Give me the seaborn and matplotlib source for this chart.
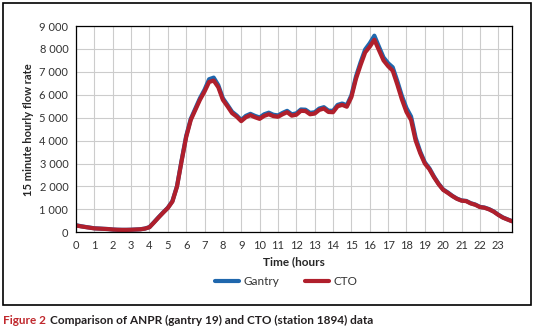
import numpy as np
import pandas as pd
import matplotlib
matplotlib.use("Agg")
import matplotlib.pyplot as plt
import matplotlib.ticker as mticker
from matplotlib.patches import Rectangle
import seaborn as sns

#%% data (15 minute intervals, 0:00 - 23:45)
hours = np.arange(96) * 0.25

cto = [300, 260, 230, 200, 170, 160, 150, 140,
       120, 110, 105, 105, 110, 120, 130, 160,
       220, 430, 650, 860, 1060, 1340, 1990, 3100,
       4150, 4900, 5340, 5780, 6140, 6560, 6620, 6330,
       5780, 5500, 5200, 5050, 4850, 5020, 5110, 5020,
       4950, 5080, 5150, 5070, 5040, 5150, 5240, 5090,
       5130, 5300, 5290, 5150, 5180, 5340, 5400, 5250,
       5240, 5500, 5560, 5480, 5900, 6700, 7300, 7850,
       8100, 8400, 7950, 7500, 7250, 7050, 6450, 5800,
       5250, 4900, 4000, 3450, 3000, 2750, 2400, 2100,
       1850, 1720, 1580, 1460, 1380, 1360, 1260, 1200,
       1100, 1070, 1000, 900, 760, 640, 560, 480]

gantry = [310, 270, 235, 205, 175, 165, 152, 142,
          122, 112, 108, 108, 112, 122, 133, 163,
          225, 440, 660, 870, 1070, 1360, 2010, 3130,
          4200, 4950, 5400, 5850, 6220, 6680, 6750, 6420,
          5850, 5560, 5260, 5100, 4900, 5080, 5170, 5080,
          5010, 5150, 5220, 5130, 5100, 5210, 5300, 5150,
          5190, 5360, 5350, 5210, 5240, 5400, 5460, 5310,
          5300, 5560, 5620, 5540, 5980, 6800, 7420, 7980,
          8250, 8580, 8100, 7630, 7380, 7200, 6600, 5950,
          5420, 5050, 4120, 3520, 3050, 2790, 2430, 2120,
          1870, 1740, 1590, 1470, 1390, 1370, 1270, 1210,
          1110, 1080, 1010, 910, 770, 650, 565, 485]

series_names = ["Gantry", "CTO"]
series_colors = ["#1f67ad", "#b01f2c"]

df = pd.DataFrame({
    "hour": np.concatenate([hours, hours]),
    "flow": gantry + cto,
    "series": ["Gantry"] * 96 + ["CTO"] * 96,
})

#%% plot
sns.set_style("white")
plt.rcParams["font.family"] = ["Lato", "DejaVu Sans"]

fig = plt.figure(figsize=(5.39, 3.34), dpi=100)
ax = fig.add_axes([0.141, 0.3045, 0.809, 0.6175])

sns.lineplot(data=df, x="hour", y="flow", hue="series",
             hue_order=series_names, palette=series_colors,
             linewidth=3.0, ax=ax, legend=False)

ax.set_xlim(0, 23.75)
ax.set_ylim(0, 9000)
ax.xaxis.set_major_locator(mticker.MultipleLocator(1))
ax.xaxis.set_minor_locator(mticker.MultipleLocator(0.25))
ax.yaxis.set_major_locator(mticker.MultipleLocator(1000))
ax.yaxis.set_major_formatter(mticker.FuncFormatter(
    lambda v, p: "{:,}".format(int(v)).replace(",", " ")))

ax.grid(True, which="major", color="#cccccc", linewidth=0.8)
ax.set_axisbelow(True)
for s in ax.spines.values():
    s.set_color("black")
    s.set_linewidth(0.9)

ax.tick_params(axis="x", which="both", direction="out", length=3.5,
               width=0.8, color="black", labelsize=8, labelcolor="#333333", pad=2)
ax.tick_params(axis="y", which="major", direction="out", length=3.5,
               width=0.8, color="black", labelsize=8, labelcolor="#333333", pad=2)

ax.set_xlabel("Time (hours", fontsize=8.5, fontweight="bold", labelpad=4)
ax.set_ylabel("15 minute hourly flow rate", fontsize=8, fontweight="bold", labelpad=4)

# legend
handles = [plt.Line2D([], [], color=c, linewidth=3.0) for c in series_colors]
fig.legend(handles, series_names, loc="center", bbox_to_anchor=(0.531, 0.157),
           ncol=2, frameon=False, fontsize=8.5, handlelength=2.0,
           columnspacing=2.2, handletextpad=0.4, labelcolor="#333333")

# outer frame
fig.patches.append(Rectangle((0.0056, 0.0868), 0.98, 0.904, transform=fig.transFigure,
                             fill=False, edgecolor="black", linewidth=1.2))

# caption
cap_font = ["Liberation Sans Narrow", "Lato", "DejaVu Sans"]
t1 = fig.text(0.006, 0.040, "Figure 2", color="#c0282d", fontsize=8.5,
              fontweight="bold", family=cap_font, va="center")
fig.canvas.draw()
bb = t1.get_window_extent().transformed(fig.transFigure.inverted())
fig.text(bb.x1 + 0.007, 0.040, "Comparison of ANPR (gantry 19) and CTO (station 1894) data",
         color="#231f20", fontsize=8.5, fontweight="bold", family=cap_font, va="center")

fig.savefig("out.png", dpi=100)
